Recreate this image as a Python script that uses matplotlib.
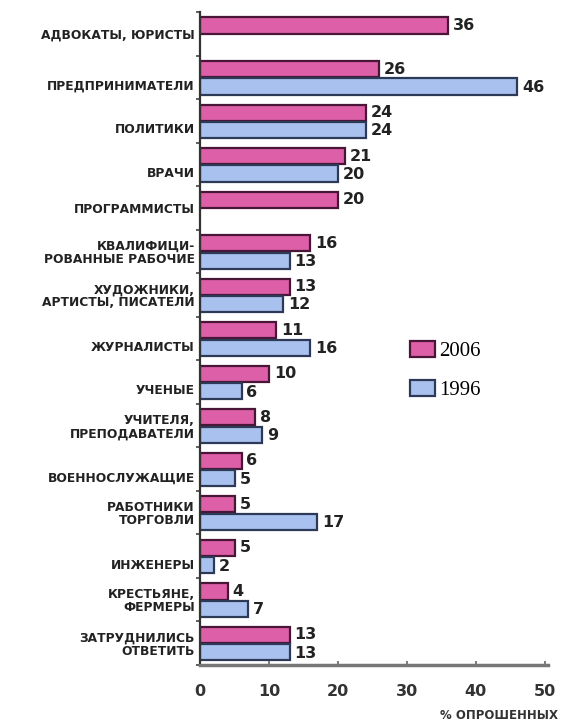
import matplotlib.pyplot as plt
import numpy as np
from matplotlib.patches import Patch

cats = ['АДВОКАТЫ, ЮРИСТЫ', 'ПРЕДПРИНИМАТЕЛИ', 'ПОЛИТИКИ', 'ВРАЧИ', 'ПРОГРАММИСТЫ',
        'КВАЛИФИЦИ-\nРОВАННЫЕ РАБОЧИЕ', 'ХУДОЖНИКИ,\nАРТИСТЫ, ПИСАТЕЛИ', 'ЖУРНАЛИСТЫ',
        'УЧЕНЫЕ', 'УЧИТЕЛЯ,\nПРЕПОДАВАТЕЛИ', 'ВОЕННОСЛУЖАЩИЕ', 'РАБОТНИКИ\nТОРГОВЛИ',
        'ИНЖЕНЕРЫ', 'КРЕСТЬЯНЕ,\nФЕРМЕРЫ', 'ЗАТРУДНИЛИСЬ\nОТВЕТИТЬ']
v2006 = [36, 26, 24, 21, 20, 16, 13, 11, 10, 8, 6, 5, 5, 4, 13]
v1996 = [None, 46, 24, 20, None, 13, 12, 16, 6, 9, 5, 17, 2, 7, 13]
xticks = [0, 10, 20, 30, 40, 50]

pink = '#dc5fa8'
pink_edge = '#4a1638'
blue = '#a9c1ee'
blue_edge = '#2c3a58'

fig = plt.figure(figsize=(5.64, 7.28), dpi=100)
ax = fig.add_axes([0.355, 0.0865, 0.617, 0.897])

n = len(cats)
h = 0.37
for i in range(n):
    ax.barh(i + 0.31, v2006[i], height=h, color=pink, edgecolor=pink_edge, linewidth=1.6)
    ax.text(v2006[i] + 0.7, i + 0.31, str(v2006[i]), va='center', ha='left',
            fontsize=11.5, fontweight='bold', color='#222222')
    if v1996[i] is not None:
        ax.barh(i + 0.71, v1996[i], height=h, color=blue, edgecolor=blue_edge, linewidth=1.6)
        ax.text(v1996[i] + 0.7, i + 0.73, str(v1996[i]), va='center', ha='left',
                fontsize=11.5, fontweight='bold', color='#222222')

# label positions: single-line labels of two-bar groups sit a bit lower
ypos = []
for i in range(n):
    if '\n' not in cats[i] and v1996[i] is not None:
        ypos.append(i + 0.67)
    else:
        ypos.append(i + 0.5)

ax.set_xlim(0, 50.5)
ax.set_ylim(n, 0)
ax.set_xticks(xticks)
ax.set_xticklabels([str(t) for t in xticks], fontsize=11.5, fontweight='bold', color='#333333')
ax.set_yticks(ypos)
ax.set_yticklabels(cats, fontsize=8.8, fontweight='bold', color='#222222', linespacing=1.0)
ax.set_yticks(np.arange(n + 1), minor=True)
ax.tick_params(axis='y', which='major', length=0, pad=4)
ax.tick_params(axis='y', which='minor', length=3, width=1.2, color='#444444', direction='out')
ax.tick_params(axis='x', length=3, width=1.2, color='#666666', direction='in', pad=14)

for s in ['top', 'right']:
    ax.spines[s].set_visible(False)
ax.spines['left'].set_linewidth(1.6)
ax.spines['left'].set_color('#333333')
ax.spines['bottom'].set_linewidth(2.5)
ax.spines['bottom'].set_color('#777777')

fig.text(0.99, 0.008, '% ОПРОШЕННЫХ', ha='right', va='bottom', fontsize=8.5,
         fontweight='bold', color='#333333')

handles = [Patch(facecolor=pink, edgecolor=pink_edge, linewidth=1.6),
           Patch(facecolor=blue, edgecolor=blue_edge, linewidth=1.6)]
ax.legend(handles, ['2006', '1996'], loc='upper left', bbox_to_anchor=(0.55, 0.525),
          frameon=False, prop={'family': 'Liberation Serif', 'size': 15},
          handlelength=1.2, handleheight=0.8, handletextpad=0.2, labelspacing=0.9)

fig.savefig('out.png', dpi=100)
